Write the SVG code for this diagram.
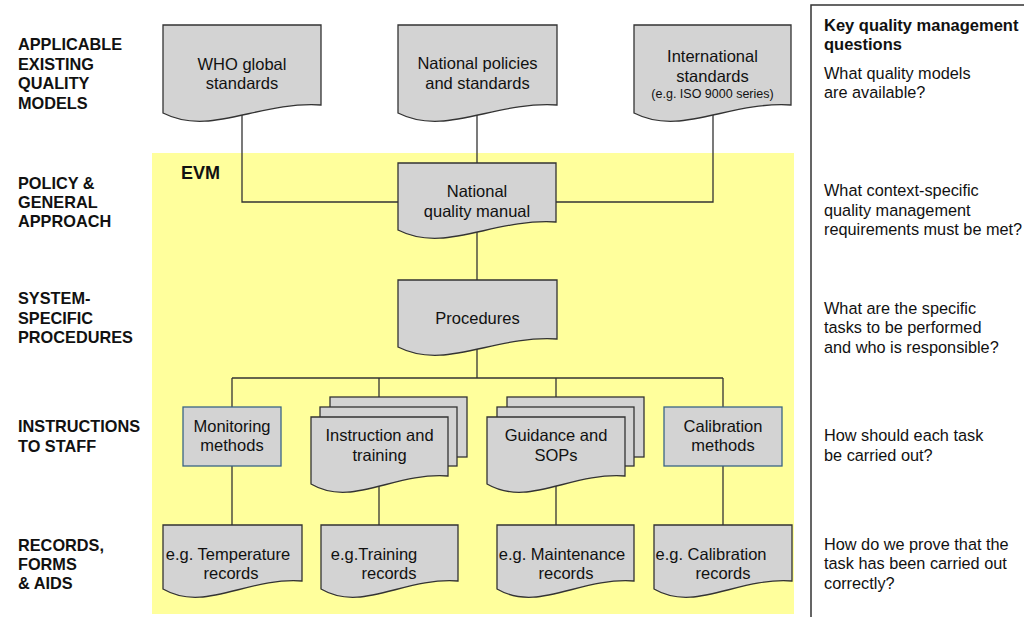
<svg xmlns="http://www.w3.org/2000/svg" width="1024" height="617" viewBox="0 0 1024 617">
<style>
text{font-family:"Liberation Sans",Arial,sans-serif;fill:#111;}
.lvl{font-size:16.3px;font-weight:bold;}
.q{font-size:16.3px;}
.t{font-size:16.5px;text-anchor:middle;}
.s{font-size:12.5px;text-anchor:middle;}
.doc{fill:#d3d3d3;stroke:#333;stroke-width:1.3;}
.box{fill:#d3d3d3;stroke:#3a6585;stroke-width:1.3;}
.con{fill:none;stroke:#333;stroke-width:1.3;}
</style>
<rect x="0" y="0" width="1024" height="617" fill="#fff"/>
<rect id="evm-area" x="152" y="153" width="642" height="461" fill="#ffff9c"/>
<text x="181" y="179" style="font-size:18px;font-weight:bold">EVM</text>

<g id="levels" class="lvl">
<text x="18" y="50">APPLICABLE</text>
<text x="18" y="69.5">EXISTING</text>
<text x="18" y="89">QUALITY</text>
<text x="18" y="108.5">MODELS</text>
<text x="18" y="189">POLICY &amp;</text>
<text x="18" y="208">GENERAL</text>
<text x="18" y="227">APPROACH</text>
<text x="18" y="304">SYSTEM-</text>
<text x="18" y="323.5">SPECIFIC</text>
<text x="18" y="343">PROCEDURES</text>
<text x="18" y="432">INSTRUCTIONS</text>
<text x="18" y="451.5">TO STAFF</text>
<text x="18" y="551">RECORDS,</text>
<text x="18" y="570">FORMS</text>
<text x="18" y="589">&amp; AIDS</text>
</g>

<g id="connectors" class="con">
<path d="M242,105 V202 H398"/>
<path d="M477,105 V163"/>
<path d="M713,105 V202 H556"/>
<path d="M477,222 V280"/>
<path d="M477,339 V378"/>
<path d="M232,378 H723"/>
<path d="M232,378 V407"/>
<path d="M379,378 V397"/>
<path d="M556,378 V397"/>
<path d="M723,378 V407"/>
<path d="M232,466 V525"/>
<path d="M379,476 V525"/>
<path d="M556,476 V525"/>
<path d="M723,466 V525"/>
</g>

<g id="who">
<path class="doc" d="M163,25 H321 V105 C257.8,101 210.4,137 163,113 Z"/>
<text class="t" x="242" y="70">WHO global</text>
<text class="t" x="242" y="89">standards</text>
</g>
<g id="national-policies">
<path class="doc" d="M398,25 H557 V105 C493.4,101 445.7,137 398,113 Z"/>
<text class="t" x="477.5" y="69">National policies</text>
<text class="t" x="477.5" y="89">and standards</text>
</g>
<g id="international">
<path class="doc" d="M634,25 H791 V105 C728.2,101 681.1,137 634,113 Z"/>
<text class="t" x="712.5" y="62">International</text>
<text class="t" x="712.5" y="82">standards</text>
<text class="s" x="712.5" y="98">(e.g. ISO 9000 series)</text>
</g>
<g id="quality-manual">
<path class="doc" d="M398,163 H556 V222 C492.8,218 445.4,254 398,230 Z"/>
<text class="t" x="477" y="197">National</text>
<text class="t" x="477" y="217">quality manual</text>
</g>
<g id="procedures">
<path class="doc" d="M398,280 H557 V339 C493.4,335 445.7,371 398,347 Z"/>
<text class="t" x="477.5" y="324">Procedures</text>
</g>
<g id="monitoring">
<rect class="box" x="183" y="407" width="98" height="59"/>
<text class="t" x="232" y="432">Monitoring</text>
<text class="t" x="232" y="451">methods</text>
</g>
<g id="instruction">
<rect class="doc" x="330" y="397" width="137" height="60"/>
<rect class="doc" x="320" y="407" width="137" height="59"/>
<path class="doc" d="M311,417 H448 V476 C393.2,472 352.1,508 311,484 Z"/>
<text class="t" x="379.5" y="441">Instruction and</text>
<text class="t" x="379.5" y="461">training</text>
</g>
<g id="guidance">
<rect class="doc" x="507" y="397" width="137" height="60"/>
<rect class="doc" x="497" y="407" width="137" height="59"/>
<path class="doc" d="M487,417 H625 V476 C569.8,472 528.4,508 487,484 Z"/>
<text class="t" x="556" y="441">Guidance and</text>
<text class="t" x="556" y="461">SOPs</text>
</g>
<g id="calibration-methods">
<rect class="box" x="664" y="407" width="118" height="59"/>
<text class="t" x="723" y="432">Calibration</text>
<text class="t" x="723" y="451">methods</text>
</g>
<g id="temperature-records">
<path class="doc" d="M163,525 H302 V581 C246.4,577 204.7,613 163,589 Z"/>
<text class="t" x="228" y="560">e.g. Temperature</text>
<text class="t" x="231" y="579">records</text>
</g>
<g id="training-records">
<path class="doc" d="M321,525 H458 V581 C403.2,577 362.1,613 321,589 Z"/>
<text class="t" x="374" y="560">e.g.Training</text>
<text class="t" x="389" y="579">records</text>
</g>
<g id="maintenance-records">
<path class="doc" d="M497,525 H634 V581 C579.2,577 538.1,613 497,589 Z"/>
<text class="t" x="562" y="560">e.g. Maintenance</text>
<text class="t" x="566" y="579">records</text>
</g>
<g id="calibration-records">
<path class="doc" d="M654,525 H792 V581 C736.8,577 695.4,613 654,589 Z"/>
<text class="t" x="711" y="560">e.g. Calibration</text>
<text class="t" x="723" y="579">records</text>
</g>

<g id="questions">
<rect x="811" y="5" width="240" height="640" fill="none" stroke="#333" stroke-width="1.5"/>
<text x="824" y="31" style="font-size:16.5px;font-weight:bold">Key quality management</text>
<text x="824" y="50" style="font-size:16.5px;font-weight:bold">questions</text>
<text class="q" x="824" y="79">What quality models</text>
<text class="q" x="824" y="98">are available?</text>
<text class="q" x="824" y="196">What context-specific</text>
<text class="q" x="824" y="216">quality management</text>
<text class="q" x="824" y="235">requirements must be met?</text>
<text class="q" x="824" y="314">What are the specific</text>
<text class="q" x="824" y="333">tasks to be performed</text>
<text class="q" x="824" y="353">and who is responsible?</text>
<text class="q" x="824" y="441">How should each task</text>
<text class="q" x="824" y="461">be carried out?</text>
<text class="q" x="824" y="550">How do we prove that the</text>
<text class="q" x="824" y="569">task has been carried out</text>
<text class="q" x="824" y="589">correctly?</text>
</g>
</svg>
